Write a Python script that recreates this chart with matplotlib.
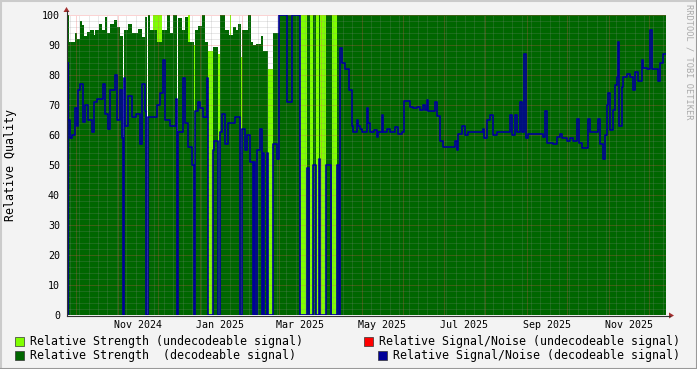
import datetime as dt
import numpy as np
import matplotlib
matplotlib.use("Agg")
import matplotlib.pyplot as plt
import matplotlib.dates as mdates
from matplotlib.lines import Line2D
from matplotlib.patches import Rectangle, Polygon

plt.rcParams['font.family'] = ['DejaVu Sans Mono']

W, H = 697, 369

# time axis: day offsets from this start
start = dt.datetime(2024, 9, 24)
span_days = 445.4

# relative strength, decodeable signal (step values)
str_day = [0, 1.5, 5.9, 7.4, 9.7, 11.2, 12.6, 14.9, 17.1, 20.1, 20.8, 23.8, 26.0, 28.3,
           29.7, 32.0, 34.9, 37.2, 39.4, 41.6, 42.6, 45.4, 48.3, 52.8, 55.8, 58.0, 59.5,
           60.2, 61.7, 66.9, 70.6, 74.4, 76.6, 78.8, 81.8, 82.5, 85.5, 87.7, 90.0, 94.1,
           95.2, 97.4, 100.4, 102.6, 104.8, 108.6, 112.6, 113.8, 117.5, 120.4, 123.4,
           125.7, 127.1, 129.1, 130.3, 134.6, 136.6, 138.3, 140.5, 144.2, 145.7, 149.7,
           152.9, 157.6, 173.6, 178.7, 181.0, 182.9, 184.8, 187.4, 188.3, 192.8, 196.8,
           201.1]
str_val = [100, 91, 94, 92, 98, 96.7, 93, 94.5, 95, 93.3, 95, 97, 95, 99.5,
           94, 97, 98.3, 96, 93, 0, 95, 97, 94, 95.5, 92.8, 99.4, 0,
           100, 95, 91, 95, 100, 94, 100, 0, 99, 95, 99.5, 91, 0,
           95, 96.5, 100, 91, 0, 89.4, 0, 100, 95, 93.3, 96,
           95, 97, 0, 95, 100, 91, 90, 90.5, 93, 88, 0,
           94, 100, 0, 100, 0, 100, 0, 100, 0, 100, 0,
           100]

# relative strength, undecodeable signal
und_day = [0, 63.9, 70.6, 90.0, 91.5, 94.1, 95.2, 104.8, 108.6, 112.6, 113.8, 120.9,
           122.1, 129.1, 130.3, 149.7, 152.9, 173.6, 178.7, 181.0, 182.9, 184.8, 187.4,
           188.3, 192.8, 196.8, 201.1]
und_val = [0, 100, 0, 100, 0, 90, 0, 88, 0, 87, 0, 100,
           0, 86, 0, 82, 0, 100, 0, 100, 0, 100, 0,
           100, 0, 100, 0]

# relative signal/noise, decodeable signal
snr_day = [0, 0.4, 1.1, 2.2, 3.7, 5.9, 7.4, 8.2, 9.7, 11.9, 13.4, 15.6, 18.6, 20.1,
           22.3, 26.8, 28.3, 30.5, 32.0, 35.7, 37.2, 39.4, 40.9, 41.6, 42.6, 43.1, 45.4,
           48.3, 51.3, 54.3, 55.5, 58.0, 58.7, 60.2, 66.9, 69.1, 71.4, 72.9, 76.6, 81.0,
           81.8, 82.9, 86.2, 87.7, 90.0, 92.9, 94.1, 95.2, 97.4, 98.9, 101.1, 104.1,
           104.8, 108.6, 109.3, 112.0, 113.8, 115.2, 117.5, 119.7, 124.9, 128.6, 130.1,
           132.3, 133.6, 136.1, 138.1, 139.0, 139.8, 141.3, 143.5, 145.0, 146.1, 146.8,
           148.7, 149.7, 152.9, 156.1, 157.6, 163.8, 167.1, 173.6, 178.7, 180.3, 183.1,
           184.8, 187.4, 188.3, 192.8, 196.1, 201.1, 201.9, 203.0, 204.5, 206.7, 209.7,
           211.9, 212.6, 215.6, 216.3, 217.8, 219.3, 223.1, 223.8, 225.3, 228.3, 230.5,
           231.2, 234.2, 235.3, 237.9, 240.1, 243.9, 246.1, 249.1, 250.6, 255.0, 257.3,
           260.2, 262.5, 264.7, 266.2, 267.7, 268.8, 273.6, 275.1, 277.3, 279.6, 288.5,
           290.0, 290.7, 293.7, 295.9, 298.1, 309.3, 310.0, 312.3, 314.5, 316.7, 319.7,
           329.4, 330.9, 333.1, 334.6, 336.8, 338.3, 339.8, 341.3, 342.8, 353.9, 355.4,
           356.9, 361.3, 364.3, 366.5, 368.0, 371.8, 374.0, 376.2, 379.2, 380.7, 382.9,
           387.4, 388.9, 394.8, 396.3, 398.5, 400.0, 401.5, 402.3, 403.7, 406.0, 407.4,
           408.9, 409.7, 410.4, 412.6, 413.4, 416.4, 418.6, 420.8, 422.3, 424.5, 427.5,
           428.2, 431.2, 433.5, 434.9, 439.4, 440.9, 443.1]
snr_val = [0, 84, 65, 59, 60, 69, 63, 75, 77, 64.5, 70, 65, 61, 71,
           72, 77, 67, 62, 75, 80, 65, 75, 59, 0, 79, 63, 73,
           66, 67, 57, 77, 68, 0, 66, 70, 74, 85, 65, 63, 72,
           0, 61, 79, 64, 56, 50, 0, 68, 71, 69, 66, 79,
           0, 55, 58, 0, 61, 67, 57, 64, 66, 0, 62,
           55, 60, 51, 0, 51, 0, 55, 62, 0, 54, 0,
           54, 0, 57, 52, 100, 71, 100, 0, 49, 0, 50,
           0, 52, 0, 50, 0, 50, 0, 89, 84, 82, 75,
           63, 61, 65, 63, 62, 61, 69, 64, 61, 61.6, 59.5,
           61, 66.7, 61, 62, 61, 62.8, 60.5, 61, 71.5, 69.5, 69,
           69.4, 68.3, 70, 68.3, 71.7, 68, 71, 66.5, 58, 56, 58,
           55, 60.5, 63, 60, 61, 62, 59, 65, 66.7, 60, 61,
           66.7, 60, 66.7, 61, 71, 61, 87, 59, 60.5, 59.5, 68,
           57.5, 57, 59.5, 60.5, 59, 58, 59, 58, 65.5, 57.5, 55.6,
           65.5, 61, 65.5, 57, 52, 60, 70, 74, 61.7, 68.3, 76.7,
           79.4, 91, 63, 76, 79.4, 80.5, 79.5, 75, 81, 78, 85,
           82.5, 82, 95, 82, 78, 84, 87]

label_months = ['Nov 2024', 'Jan 2025', 'Mar 2025', 'May 2025', 'Jul 2025', 'Sep 2025', 'Nov 2025']

legend_items = [
    ('Relative Strength (undecodeable signal)', '#80ff00'),
    ('Relative Signal/Noise (undecodeable signal)', '#ff0000'),
    ('Relative Strength  (decodeable signal)', '#006600'),
    ('Relative Signal/Noise (decodeable signal)', '#000099'),
]


def fpx(x, y):
    return x / W, 1 - y / H


def steps(days, vals):
    t = mdates.date2num(start) + np.array(days + [span_days])
    v = np.array(vals + [vals[-1]])
    return t, v


fig = plt.figure(figsize=(W / 100, H / 100), dpi=100, facecolor='#f3f3f3')
ax = fig.add_axes([67 / W, 54 / H, 599 / W, 300 / H])
ax.set_facecolor('white')

t_start = mdates.date2num(start)
t_end = t_start + span_days

t, v = steps(und_day, und_val)
ax.fill_between(t, 0, v, step='post', color='#80ff00', lw=0, antialiased=False, zorder=1)
t, v = steps(str_day, str_val)
ax.fill_between(t, 0, v, step='post', color='#006600', lw=0, antialiased=False, zorder=2)

# grid (drawn over the areas, rrdtool style)
dots = (0, (1, 1))
months = [mdates.date2num(dt.datetime(2024 + (9 + i) // 12, (9 + i) % 12 + 1, 1)) for i in range(15)]
thu = mdates.date2num(dt.datetime(2024, 9, 26))
weeks = np.arange(thu, t_end, 7)
for w in weeks:
    if min(abs(w - m) for m in months) > 0.8:
        ax.axvline(w, color='#8f8f8f', alpha=0.4, lw=0.72, ls=dots, zorder=3)
for m in months:
    if t_start < m < t_end:
        ax.axvline(m, color='#f05050', alpha=0.5, lw=0.72, ls=dots, zorder=3)
for y in range(2, 101, 2):
    if y % 10:
        ax.axhline(y, color='#8f8f8f', alpha=0.4, lw=0.72, ls=dots, zorder=3)
    else:
        ax.axhline(y, color='#f05050', alpha=0.5, lw=0.72, ls=dots, zorder=3)

t, v = steps(snr_day, snr_val)
ax.step(t, v, where='post', color='#000099', lw=1.2, zorder=4)

ax.set_xlim(t_start, t_end)
ax.set_ylim(0, 100)
for s in ax.spines.values():
    s.set_visible(False)
ax.set_xticks([])
ax.set_yticks(range(0, 101, 10))
ax.tick_params(axis='y', length=0, pad=5, labelsize=7.2)

for lab in label_months:
    d = dt.datetime.strptime(lab, '%b %Y') + dt.timedelta(days=15)
    ax.text(mdates.date2num(d), -0.035, lab, transform=ax.get_xaxis_transform(),
            ha='center', va='center', fontsize=7.2)

# axes lines with arrows
fig.add_artist(Line2D(*zip(fpx(66.5, 315.5), fpx(670, 315.5)), transform=fig.transFigure,
                      color='#333333', lw=0.8))
fig.add_artist(Line2D(*zip(fpx(66.5, 315.5), fpx(66.5, 11)), transform=fig.transFigure,
                      color='#333333', lw=0.8))
fig.add_artist(Polygon([fpx(669, 312.5), fpx(674, 315.5), fpx(669, 318.5)], closed=True,
                       transform=fig.transFigure, color='#a33030', lw=0))
fig.add_artist(Polygon([fpx(63.5, 12), fpx(66.5, 7), fpx(69.5, 12)], closed=True,
                       transform=fig.transFigure, color='#a33030', lw=0))

fig.text(11 / W, 1 - 165 / H, 'Relative Quality', rotation=90, fontsize=8.4,
         ha='center', va='center')
fig.text(689 / W, 1 - 4 / H, 'RRDTOOL / TOBI OETIKER', rotation=270, fontsize=6.2,
         color='#aaaaaa', ha='center', va='top')

# legend
fig.canvas.draw()
renderer = fig.canvas.get_renderer()
rows = [341.5, 341.5, 355.5, 355.5]
for i, (lab, col) in enumerate(legend_items):
    y = rows[i]
    if i % 2 == 0:
        txt = fig.text(30 / W, 1 - y / H, lab, fontsize=8.35, ha='left', va='center')
        x0 = 30
    else:
        txt = fig.text(680 / W, 1 - y / H, lab, fontsize=8.35, ha='right', va='center')
        x0 = txt.get_window_extent(renderer).x0
    bx, by = fpx(x0 - 15, y + 4.5)
    fig.add_artist(Rectangle((bx, by), 9 / W, 9 / H, transform=fig.transFigure,
                             facecolor=col, edgecolor='#333333', lw=0.5))

# frame shading
fig.add_artist(Line2D([0, 1], [1 - 0.5 / H] * 2, transform=fig.transFigure, color='#cbcbcb', lw=1.5))
fig.add_artist(Line2D([0.5 / W] * 2, [0, 1], transform=fig.transFigure, color='#cbcbcb', lw=1.5))
fig.add_artist(Line2D([0, 1], [0.5 / H] * 2, transform=fig.transFigure, color='#999999', lw=1.5))
fig.add_artist(Line2D([1 - 0.5 / W] * 2, [0, 1], transform=fig.transFigure, color='#999999', lw=1.5))

fig.savefig('out.png', dpi=100, facecolor=fig.get_facecolor())
